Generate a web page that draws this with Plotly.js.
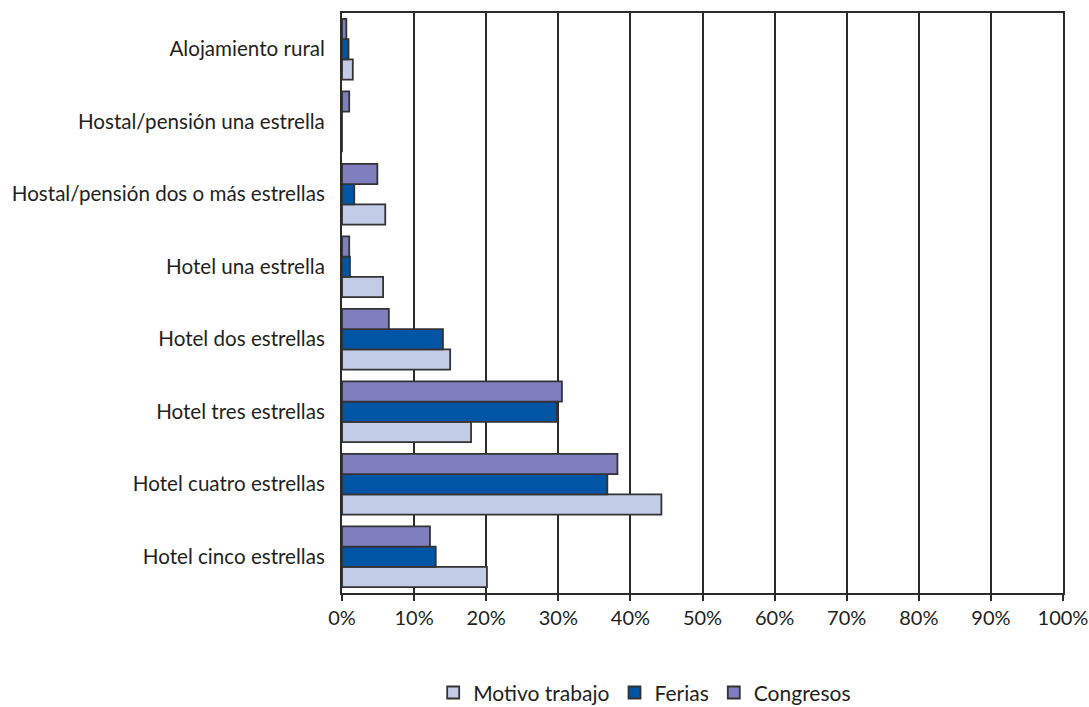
<!DOCTYPE html>
<html>
<head>
<meta charset="utf-8">
<script src="https://cdn.plot.ly/plotly-3.0.1.min.js"></script>
<style>
  html, body { margin: 0; padding: 0; background: #ffffff; }
  #chart { width: 1089px; height: 707px; }
</style>
</head>
<body>
<div id="chart"></div>
<script>
// Accommodation categories, listed from the bottom of the chart upwards
const categories = [
  "Hotel cinco estrellas",
  "Hotel cuatro estrellas",
  "Hotel tres estrellas",
  "Hotel dos estrellas",
  "Hotel una estrella",
  "Hostal/pensión dos o más estrellas",
  "Hostal/pensión una estrella",
  "Alojamiento rural"
];

// Share of travellers (%) per accommodation type
const motivoTrabajo = [20.1, 44.3, 17.9, 15.0, 5.7, 6.0, 0, 1.5];
const ferias        = [13.0, 36.8, 29.8, 14.0, 1.1, 1.7, 0, 0.9];
const congresos     = [12.2, 38.2, 30.5, 6.5, 1.0, 4.9, 1.0, 0.6];

const seriesNames  = ["Motivo trabajo", "Ferias", "Congresos"];
const seriesColors = ["#c3cce6", "#0055a5", "#7f7fbf"];
const seriesValues = [motivoTrabajo, ferias, congresos];

const xTicks = [0, 10, 20, 30, 40, 50, 60, 70, 80, 90, 100];

const ink = "#231f20";
const rule = "#2b2b2b";
const fontFamily = "Lato, 'Open Sans', sans-serif";

const traces = seriesValues.map((vals, i) => ({
  type: "bar",
  orientation: "h",
  name: seriesNames[i],
  y: categories,
  x: vals,
  marker: {
    color: seriesColors[i],
    line: { color: "#333333", width: 1.8 }
  },
  hoverinfo: "x+name"
}));

const layout = {
  width: 1089,
  height: 707,
  margin: { l: 342, r: 26, t: 13, b: 114, pad: 0 },
  paper_bgcolor: "#ffffff",
  plot_bgcolor: "#ffffff",
  font: { family: fontFamily, size: 21, color: ink },
  barmode: "group",
  bargap: 0.16,
  bargroupgap: 0,
  showlegend: true,
  legend: {
    orientation: "h",
    xref: "container",
    yref: "container",
    x: 0.592,
    xanchor: "center",
    y: 0.02,
    yanchor: "middle",
    font: { family: fontFamily, size: 21, color: ink },
    itemwidth: 30,
    traceorder: "normal"
  },
  xaxis: {
    range: [0, 100.001],
    tickvals: xTicks,
    ticktext: xTicks.map(v => v + "%"),
    ticklabeloverflow: "allow",
    showgrid: true,
    gridcolor: rule,
    gridwidth: 2,
    zeroline: false,
    showline: true,
    linecolor: rule,
    linewidth: 2,
    mirror: true,
    ticks: "outside",
    ticklen: 6,
    tickwidth: 2,
    tickcolor: rule,
    tickfont: { family: fontFamily, size: 20, color: ink },
    fixedrange: true
  },
  yaxis: {
    type: "category",
    categoryorder: "array",
    categoryarray: categories,
    showgrid: false,
    zeroline: false,
    showline: true,
    linecolor: rule,
    linewidth: 2,
    mirror: true,
    ticks: "",
    ticklabelstandoff: 11,
    tickfont: { family: fontFamily, size: 20.6, color: ink },
    fixedrange: true
  }
};

Plotly.newPlot("chart", traces, layout, { displayModeBar: false, staticPlot: true });
</script>
</body>
</html>
